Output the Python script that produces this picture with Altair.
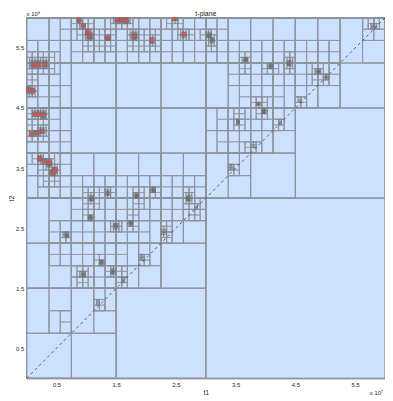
import altair as alt
import pandas as pd

alt.data_transformers.disable_max_rows()

# ---- data (t1 in 1e7 units, t2 in 1e8 units) ----
# red (solution) clusters
RED_T1 = [0.12, 0.20, 0.30, 0.03, 0.10, 0.13, 0.20, 0.28, 0.08, 0.17, 0.26,
          0.22, 0.30, 0.38, 0.44, 0.47, 0.88, 0.95, 1.02, 1.06, 1.36,
          1.52, 1.60, 1.68, 1.80, 2.10, 2.64, 2.48]
RED_T2 = [5.22, 5.22, 5.23, 4.80, 4.79, 4.39, 4.39, 4.38, 4.07, 4.09, 4.11,
          3.65, 3.62, 3.59, 3.42, 3.47, 5.97, 5.87, 5.77, 5.70, 5.66,
          5.97, 5.98, 5.95, 5.69, 5.63, 5.73, 5.99]
# dense grey clusters
GRAY_T1 = [3.05, 3.10, 3.67, 4.08, 4.39, 4.89, 3.87, 3.98, 3.54, 1.08, 1.07,
           0.67, 1.49, 1.74, 1.36, 2.13, 1.85, 2.70, 1.25, 0.95, 1.44]
GRAY_T2 = [5.70, 5.63, 5.30, 5.19, 5.24, 5.11, 4.57, 4.45, 4.27, 2.99, 2.68,
           2.38, 2.54, 2.58, 3.08, 3.13, 3.03, 2.99, 1.94, 1.73, 1.76]
# light clusters (mostly near the diagonal)
LIGHT_T1 = [4.25, 3.79, 3.43, 4.57, 5.02, 5.80, 2.84, 2.31, 1.93, 1.61, 1.20]
LIGHT_T2 = [4.27, 3.87, 3.51, 4.62, 5.02, 5.87, 2.84, 2.43, 2.01, 1.65, 1.27]
# extra coarse cells seen in the lower-left corner (point inside, smallest cell side)
EXTRA_T1 = [0.60, 0.80]
EXTRA_T2 = [0.90, 0.40]
EXTRA_SIDE = [0.2, 0.75]

DIAG = [0.0, 6.0]
TICKS = [0.5, 1, 1.5, 2, 2.5, 3, 3.5, 4, 4.5, 5, 5.5]

# ---- subdivision of the t-plane driven by the clusters ----
seeds = []
for a, b in zip(RED_T1, RED_T2):
    seeds.append((a, b, 0.03, 0.012))
    seeds.append((a, b, 0.08, 0.1))
    seeds.append((a, b, 0.2, 0.2))
for a, b in zip(GRAY_T1, GRAY_T2):
    seeds.append((a, b, 0.022, 0.012))
    seeds.append((a, b, 0.05, 0.1))
    seeds.append((a, b, 0.18, 0.2))
for a, b in zip(LIGHT_T1, LIGHT_T2):
    seeds.append((a, b, 0.015, 0.03))
    seeds.append((a, b, 0.04, 0.1))
for a, b, s in zip(EXTRA_T1, EXTRA_T2, EXTRA_SIDE):
    seeds.append((a, b, 0.001, s))

cells = []


def rec(x0, x1, y0, y1):
    cells.append((round(x0, 5), round(x1, 5), round(y0, 5), round(y1, 5),
                  "coarse" if max(x1 - x0, y1 - y0) > 0.09 else "fine"))
    w, h = x1 - x0, y1 - y0
    s = max(w, h)
    split = False
    for sx, sy, r, m in seeds:
        if s > m + 1e-9 and x0 <= sx + r and x1 >= sx - r and y0 <= sy + r and y1 >= sy - r:
            split = True
            break
    if not split:
        return
    if w >= h:
        xm = (x0 + x1) / 2
        rec(x0, xm, y0, y1)
        rec(xm, x1, y0, y1)
    else:
        ym = (y0 + y1) / 2
        rec(x0, x1, y0, ym)
        rec(x0, x1, ym, y1)


rec(0.0, 6.0, 0.0, 6.0)
cell_df = pd.DataFrame(cells, columns=["a", "b", "c", "d", "lvl"])
coarse_df = cell_df[cell_df.lvl == "coarse"]
fine_df = cell_df[cell_df.lvl == "fine"]
red_df = pd.DataFrame({"t1": RED_T1, "t2": RED_T2})
diag_df = pd.DataFrame({"t1": DIAG, "t2": DIAG})

FONT = "Liberation Sans"
xs = alt.Scale(domain=[0, 6], nice=False, zero=False)
ys = alt.Scale(domain=[0, 6], nice=False, zero=False)

xax = alt.Axis(values=TICKS, format="~g", ticks=False, grid=False, domain=True,
               domainColor="#666666", labelFontSize=6, labelFont=FONT, labelPadding=3,
               labelColor="#222", title="t1", titleFontSize=7, titleFont=FONT,
               titleFontWeight="normal", titlePadding=2, titleColor="#222")
yax = alt.Axis(values=TICKS, format="~g", ticks=False, grid=False, domain=False,
               labelFontSize=6, labelFont=FONT, labelPadding=3, labelColor="#222",
               title="t2", titleFontSize=7, titleFont=FONT, titleFontWeight="normal",
               titlePadding=1, titleColor="#222")

coarse = alt.Chart(coarse_df).mark_rect(filled=False, stroke="#8f949c", strokeOpacity=0.85,
                                        strokeWidth=0.8).encode(
    x=alt.X("a:Q", scale=xs, axis=xax), x2="b:Q",
    y=alt.Y("c:Q", scale=ys, axis=yax), y2="d:Q")

fine = alt.Chart(fine_df).mark_rect(filled=False, stroke="#7a7a7a", strokeOpacity=0.25,
                                    strokeWidth=0.7).encode(
    x=alt.X("a:Q", scale=xs), x2="b:Q",
    y=alt.Y("c:Q", scale=ys), y2="d:Q")

red = alt.Chart(red_df).mark_circle(color="#f24848", size=13, opacity=0.95).encode(
    x=alt.X("t1:Q", scale=xs), y=alt.Y("t2:Q", scale=ys))

diag = alt.Chart(diag_df).mark_line(color="#333d4d", strokeDash=[3, 3], strokeWidth=0.8).encode(
    x=alt.X("t1:Q", scale=xs), y=alt.Y("t2:Q", scale=ys))

one = pd.DataFrame({"k": [0]})
title = alt.Chart(one).mark_text(text="t-plane", fontSize=7, font=FONT, color="#222",
                                 align="center", baseline="middle").encode(
    x=alt.value(183), y=alt.value(-4))
ylab = alt.Chart(one).mark_text(text="x 10⁸", fontSize=6, font=FONT, color="#222",
                                align="left", baseline="middle").encode(
    x=alt.value(0), y=alt.value(-4))
xlab = alt.Chart(one).mark_text(text="x 10⁷", fontSize=6, font=FONT, color="#222",
                                align="right", baseline="middle").encode(
    x=alt.value(364), y=alt.value(383))

chart = alt.layer(coarse, fine, red, diag, title, ylab, xlab).properties(
    width=366, height=368,
    autosize=alt.AutoSizeParams(type="none"),
    padding={"left": 19, "top": 6, "right": 0, "bottom": 19},
    background="white",
).configure_view(fill="#cce0ff", stroke=None)

chart.save("out.html", embed_options={"renderer": "svg", "actions": False})
